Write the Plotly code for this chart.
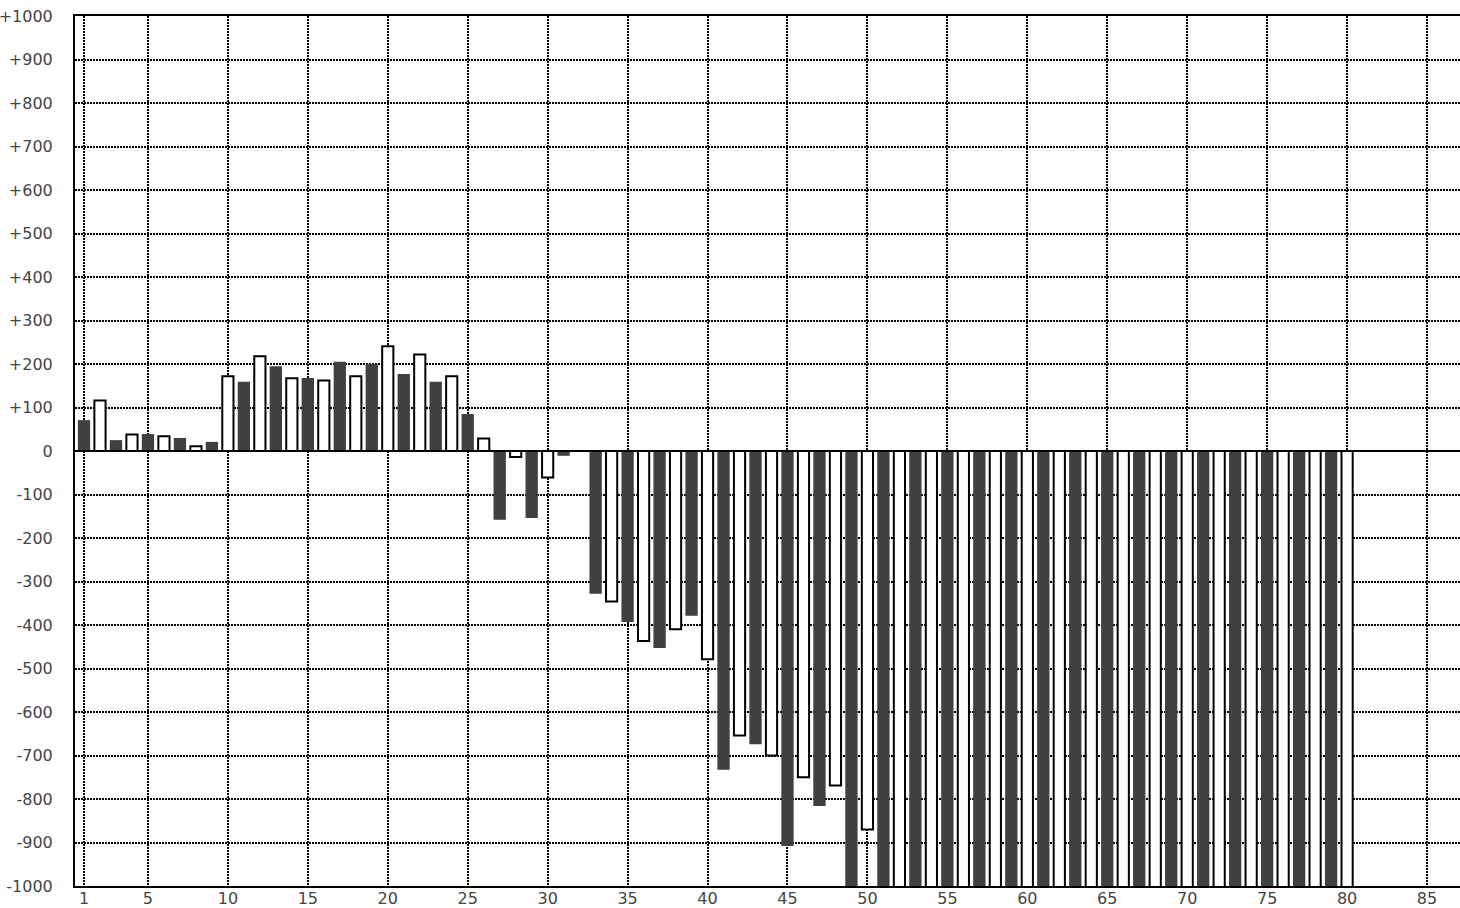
import plotly.graph_objects as go

# Odd positions: dark bars; even positions: white bars with black outline
dark_x = list(range(1, 80, 2))
dark_vals = [71, 25, 39, 30, 21, 159, 195, 168, 205, 200,
             177, 159, 85, -158, -154, -11, -328, -393, -453, -379,
             -733, -674, -908, -816, -1100, -1100, -1100, -1100, -1100, -1100,
             -1100, -1100, -1100, -1100, -1100, -1100, -1100, -1100, -1100, -1100]

white_x = list(range(2, 81, 2))
white_vals = [116, 38, 34, 11, 172, 218, 167, 162, 172, 241,
              222, 172, 29, -14, -61, None, -346, -437, -410, -479,
              -654, -700, -750, -769, -870, -1100, -1100, -1100, -1100, -1100,
              -1100, -1100, -1100, -1100, -1100, -1100, -1100, -1100, -1100, -1100]

x_ticks = [1, 5, 10, 15, 20, 25, 30, 35, 40, 45, 50, 55, 60, 65, 70, 75, 80, 85]
y_ticks = list(range(-1000, 1001, 100))
y_labels = [("+" + str(v)) if v > 0 else str(v) for v in y_ticks]

fig = go.Figure()
fig.add_trace(go.Bar(x=dark_x, y=dark_vals, width=0.77,
                     marker=dict(color="#404040", line=dict(width=0))))
fig.add_trace(go.Bar(x=white_x, y=white_vals, width=0.7,
                     marker=dict(color="white", line=dict(color="black", width=2))))

fig.update_layout(
    width=1460, height=908,
    margin=dict(l=75, r=0, t=16, b=22, autoexpand=False),
    plot_bgcolor="white", paper_bgcolor="white",
    barmode="overlay", showlegend=False,
    font=dict(family="DejaVu Sans", size=16, color="#444"),
    shapes=[dict(type="line", xref="paper", x0=0, x1=1, yref="y", y0=0, y1=0,
                 line=dict(color="black", width=2), layer="above")],
)
fig.update_xaxes(
    range=[0.4375, 87.0625], tickmode="array", tickvals=x_ticks,
    showgrid=True, gridcolor="black", gridwidth=1.5, griddash="2px,1px",
    showline=True, linecolor="black", linewidth=2, mirror=True,
    zeroline=False, ticks="", ticklabelstandoff=-3, automargin=False,
)
fig.update_yaxes(
    range=[-1000, 1000], tickmode="array", tickvals=y_ticks, ticktext=y_labels,
    showgrid=True, gridcolor="black", gridwidth=1.5, griddash="2px,1px",
    showline=True, linecolor="black", linewidth=2, mirror=False,
    zeroline=False, ticks="", ticklabelstandoff=17, automargin=False,
)

fig.write_html("out.html", config={"displayModeBar": False},
               post_script="document.body.style.margin='0';document.body.style.overflow='hidden';")
